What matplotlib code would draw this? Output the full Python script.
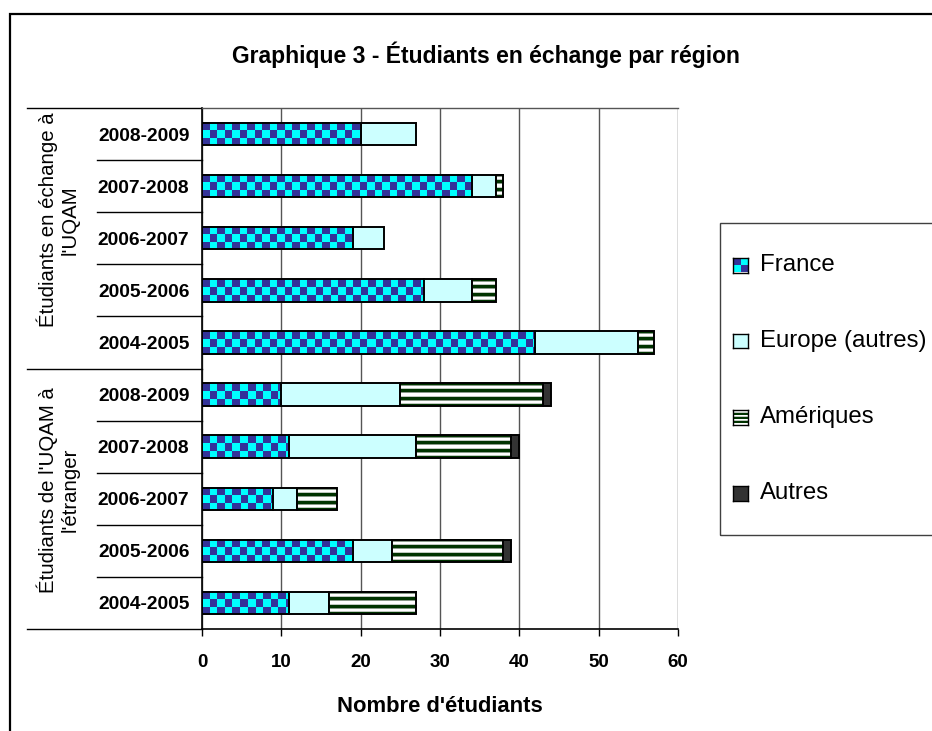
import numpy as np
import matplotlib
matplotlib.use('Agg')
import matplotlib.pyplot as plt
import matplotlib.transforms as mtrans
from matplotlib.patches import Rectangle
from matplotlib import font_manager

# ---------------- data ----------------
periods = ['2008-2009', '2007-2008', '2006-2007', '2005-2006', '2004-2005']
groups = ["Étudiants en échange à\nl'UQAM", "Étudiants de l'UQAM à\nl'étranger"]
series = ['France', 'Europe (autres)', 'Amériques', 'Autres']

france_in = [20, 34, 19, 28, 42]
europe_in = [7, 3, 4, 6, 13]
ameriques_in = [0, 1, 0, 3, 2]
autres_in = [0, 0, 0, 0, 0]

france_out = [10, 11, 9, 19, 11]
europe_out = [15, 16, 3, 5, 5]
ameriques_out = [18, 12, 5, 14, 11]
autres_out = [1, 1, 0, 1, 0]

xticks = [0, 10, 20, 30, 40, 50, 60]
title = 'Graphique 3 - Étudiants en échange par région'
xlabel = "Nombre d'étudiants"

# ---------------- style ----------------
names = {f.name for f in font_manager.fontManager.ttflist}
FONT = 'Liberation Sans' if 'Liberation Sans' in names else 'DejaVu Sans'
plt.rcParams['font.family'] = [FONT, 'DejaVu Sans']

CYAN = '#00FFFF'
NAVY = '#333399'
EUROPE = '#CCFFFF'
GREEN = '#003300'
AUTRES = '#333333'

W, H = 932, 731
fig = plt.figure(figsize=(W / 100, H / 100), dpi=100)

# figure frame
fig.patches.append(Rectangle((10 / W, 1 - 740 / H), 940 / W, 726 / H,
                             transform=fig.transFigure, fill=False,
                             edgecolor='black', linewidth=1.6, zorder=0))

L, R, T, B = 202, 678, 108, 629
ax = fig.add_axes([L / W, 1 - B / H, (R - L) / W, (B - T) / H])

n = len(periods) * 2
ypos = np.arange(n)
france = np.array(france_in + france_out, dtype=float)
europe = np.array(europe_in + europe_out, dtype=float)
amer = np.array(ameriques_in + ameriques_out, dtype=float)
autres = np.array(autres_in + autres_out, dtype=float)

bh = 0.43
lw = 1.4


def lws(v):
    return [lw if x > 0 else 0 for x in v]


b_fr = ax.barh(ypos, france, height=bh, facecolor='none', edgecolor='black',
               linewidth=lws(france), zorder=4)
b_eu = ax.barh(ypos, europe, left=france, height=bh, facecolor=EUROPE,
               edgecolor='black', linewidth=lws(europe), zorder=3)
b_am = ax.barh(ypos, amer, left=france + europe, height=bh, facecolor='none',
               edgecolor='black', linewidth=lws(amer), zorder=4)
b_au = ax.barh(ypos, autres, left=france + europe + amer, height=bh,
               facecolor=AUTRES, edgecolor='black', linewidth=lws(autres), zorder=3)

ax.set_xlim(0, 60)
ax.set_ylim(n - 0.5, -0.5)

ax_px_w = R - L
ax_px_h = B - T
px_x = ax_px_w / 60.0
px_y = ax_px_h / float(n)


def hexrgb(c):
    c = c.lstrip('#')
    return [int(c[i:i + 2], 16) / 255 for i in (0, 2, 4)]


def checker(ny, nx, cell=7.5):
    yy, xx = np.mgrid[0:ny, 0:nx]
    m = ((yy // cell).astype(int) + (xx // cell).astype(int)) % 2
    img = np.zeros((ny, nx, 3))
    img[m == 0] = hexrgb(NAVY)
    img[m == 1] = hexrgb(CYAN)
    return img


def stripes(ny, nx):
    pat = [GREEN, GREEN, GREEN, '#8a9a8a', '#FFFFFF', '#FFFFFF', '#c0c8c0']
    img = np.zeros((ny, nx, 3))
    for r in range(ny):
        img[r, :] = hexrgb(pat[(r + 1) % len(pat)])
    return img


def fill(container, maker):
    for rect in container.patches:
        w = rect.get_width()
        if w <= 0:
            continue
        x0, y0, h = rect.get_x(), rect.get_y(), rect.get_height()
        nx = max(1, int(round(w * px_x)))
        ny = max(1, int(round(h * px_y)))
        img = maker(ny, nx)
        ax.imshow(img, extent=(x0, x0 + w, y0 + h, y0), origin='upper',
                  interpolation='nearest', aspect='auto', zorder=3.5,
                  clip_path=rect, clip_on=True)


fill(b_fr, checker)
fill(b_am, stripes)
ax.set_xlim(0, 60)
ax.set_ylim(n - 0.5, -0.5)

# grid & spines
ax.set_xticks(xticks)
ax.set_xticklabels([str(t) for t in xticks], fontsize=13.5, fontweight='bold')
ax.xaxis.grid(True, color='#555555', linewidth=1.0, zorder=0)
ax.set_axisbelow(True)
ax.spines['right'].set_visible(False)
ax.spines['top'].set_color('#555555')
ax.spines['top'].set_linewidth(1.0)
ax.spines['left'].set_linewidth(1.2)
ax.spines['bottom'].set_linewidth(1.2)
ax.tick_params(axis='x', direction='out', length=5, width=1.0, pad=13)

ax.set_yticks(ypos)
ax.set_yticklabels(periods + periods, fontsize=13.8, fontweight='bold')
ax.tick_params(axis='y', length=0, pad=9)

# multi-level category lines
tr = mtrans.blended_transform_factory(ax.transAxes, ax.transData)
x_year = (97 - L) / ax_px_w
x_grp = (27 - L) / ax_px_w
for k in range(1, n):
    if k == len(periods):
        continue
    ax.plot([x_year, 0], [k - 0.5, k - 0.5], transform=tr, color='black',
            linewidth=1.0, clip_on=False)
for yb in [-0.5, len(periods) - 0.5, n - 0.5]:
    ax.plot([x_grp, 0], [yb, yb], transform=tr, color='black',
            linewidth=1.0, clip_on=False)

# group labels (centred a little above the group middle, as in the original)
x_glab = (58 - L) / ax_px_w
g_centres_px = [220, 490]
for label, ypx in zip(groups, g_centres_px):
    ax.text(x_glab, (B - ypx) / ax_px_h, label, transform=ax.transAxes,
            rotation=90, ha='center', va='center', multialignment='center',
            fontsize=14.7, linespacing=1.2)

ax.set_xlabel(xlabel, fontsize=15.8, fontweight='bold')
ax.xaxis.set_label_coords(0.5, (B - 706) / ax_px_h)
ax.xaxis.label.set_va('center')

fig.text(486 / W, 1 - 55 / H, title, ha='center', va='center',
         fontsize=16.5, fontweight='bold')

# ---------------- legend (manual) ----------------
fig.patches.append(Rectangle((720 / W, 1 - 535 / H), 240 / W, 312 / H,
                             transform=fig.transFigure, fill=False,
                             edgecolor='#404040', linewidth=1.0, zorder=5))
leg_y = [265, 341, 417, 493]
hs = 15
faces = [None, EUROPE, None, AUTRES]
for i, (lab, yc) in enumerate(zip(series, leg_y)):
    hx, hy = 733, yc - hs / 2
    hax = fig.add_axes([hx / W, 1 - (hy + hs) / H, hs / W, hs / H])
    if i == 0:
        hax.imshow(checker(hs, hs, cell=7.5), interpolation='nearest', aspect='auto')
    elif i == 2:
        img = np.zeros((hs, hs, 3))
        pat = [GREEN, GREEN, '#FFFFFF', '#c0c8c0']
        for r in range(hs):
            img[r, :] = hexrgb(pat[r % 4])
        hax.imshow(img, interpolation='nearest', aspect='auto')
    else:
        hax.set_facecolor(faces[i])
    hax.set_xticks([])
    hax.set_yticks([])
    for sp in hax.spines.values():
        sp.set_linewidth(1.0)
        sp.set_color('black')
    fig.text(760 / W, 1 - yc / H, lab, ha='left', va='center', fontsize=17.3)

fig.savefig('out.png', dpi=100)
